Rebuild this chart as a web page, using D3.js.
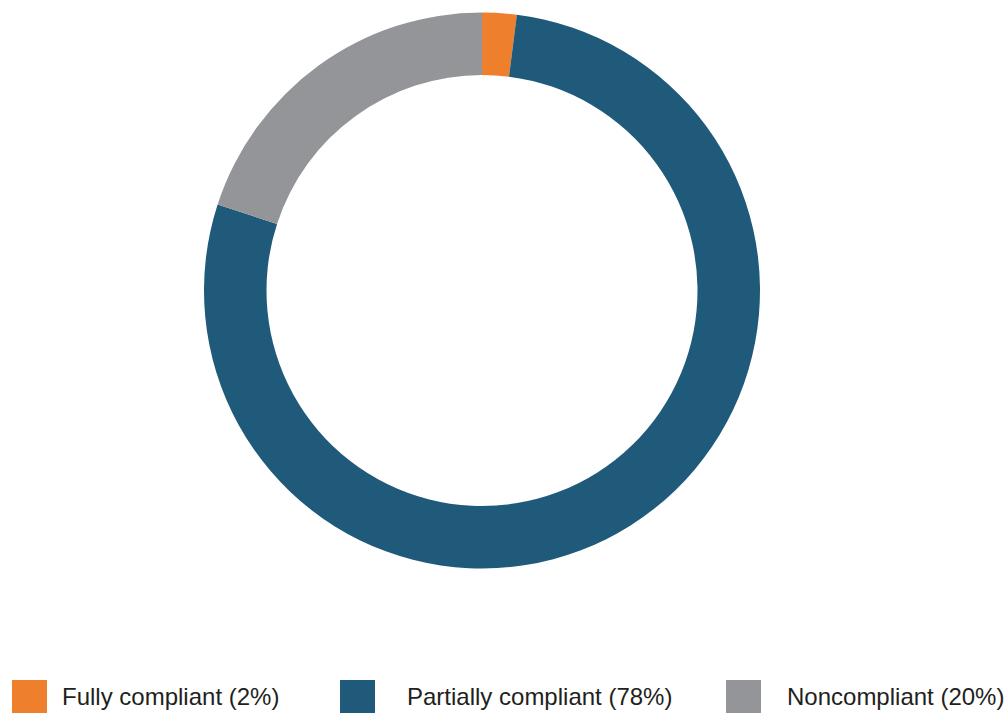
<!DOCTYPE html>
<html>
<head>
<meta charset="utf-8">
<script src="https://cdn.jsdelivr.net/npm/d3@7"></script>
<style>
  body { margin: 0; background: #ffffff; }
  svg { display: block; }
</style>
</head>
<body>
<div id="chart"></div>
<script>
// Data
var categories = ["Fully compliant", "Partially compliant", "Noncompliant"];
var shares = [2, 78, 20];
var colorsList = ["#ee7f2d", "#1f5a7b", "#939598"];

function chartDonut_Draw(ele) {
    ele = "#" + ele;
    d3.select(ele).selectAll("svg").remove();

    var w = 1008, h = 713;
    var cx = 482, cy = 290.5;
    var outerR = 278, innerR = 215.5;

    var svg = d3.select(ele)
        .append("svg")
        .attr("width", w)
        .attr("height", h);

    var data = categories.map(function(c, i) { return { name: c, value: shares[i] }; });

    var pie = d3.pie()
        .value(function(d) { return d.value; })
        .sort(null);

    var arc = d3.arc()
        .innerRadius(innerR)
        .outerRadius(outerR);

    var color = d3.scaleOrdinal().domain(categories).range(colorsList);

    // Slices
    svg.append("g")
        .attr("transform", "translate(" + cx + "," + cy + ")")
        .selectAll("path")
        .data(pie(data))
        .enter()
        .append("path")
        .attr("d", arc)
        .attr("fill", function(d) { return color(d.data.name); });

    // Legend
    var items = svg.selectAll(".legend")
        .data(data)
        .enter()
        .append("g")
        .attr("class", "legend")
        .attr("transform", function(d, i) {
            var x = [12, 340, 726][i];
            return "translate(" + x + ",680)";
        });

    items.append("rect")
        .attr("width", 35)
        .attr("height", 35)
        .attr("fill", function(d) { return color(d.name); });

    items.append("text")
        .attr("x", function(d, i) { return [50, 67, 61][i]; })
        .attr("y", 25)
        .attr("font-family", "Liberation Sans, Arial, sans-serif")
        .attr("font-size", "24px")
        .attr("fill", "#231f20")
        .text(function(d) { return d.name + " (" + d.value + "%)"; });
}

chartDonut_Draw("chart");
</script>
</body>
</html>
